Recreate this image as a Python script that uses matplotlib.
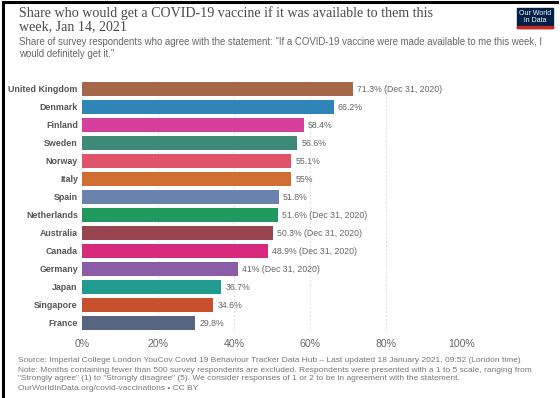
import matplotlib.pyplot as plt
from matplotlib.patches import Rectangle
from matplotlib.lines import Line2D

countries = ['United Kingdom', 'Denmark', 'Finland', 'Sweden', 'Norway', 'Italy',
             'Spain', 'Netherlands', 'Australia', 'Canada', 'Germany', 'Japan',
             'Singapore', 'France']
values = [71.3, 66.2, 58.4, 56.6, 55.1, 55.0, 51.8, 51.6, 50.3, 48.9, 41.0,
          36.7, 34.6, 29.8]
value_labels = ['71.3% (Dec 31, 2020)', '66.2%', '58.4%', '56.6%', '55.1%', '55%',
                '51.8%', '51.6% (Dec 31, 2020)', '50.3% (Dec 31, 2020)',
                '48.9% (Dec 31, 2020)', '41% (Dec 31, 2020)', '36.7%', '34.6%',
                '29.8%']
colors = ['#a6684b', '#2f86b6', '#d63f9b', '#3e8a78', '#df5468', '#cf6d33',
          '#6a83ae', '#1f995e', '#984551', '#d82a7c', '#8a5ca7', '#219a8f',
          '#c5502b', '#566580']
xticks = [0, 20, 40, 60, 80, 100]

title = 'Share who would get a COVID-19 vaccine if it was available to them this\nweek, Jan 14, 2021'
subtitle = ('Share of survey respondents who agree with the statement: "If a COVID-19 vaccine '
            'were made available to me this week, I\nwould definitely get it."')
footer = ['Source: Imperial College London YouCov Covid 19 Behaviour Tracker Data Hub \u2013 '
          'Last updated 18 January 2021, 09:52 (London time)',
          'Note: Months containing fewer than 500 survey respondents are excluded. Respondents '
          'were presented with a 1 to 5 scale, ranging from',
          '"Strongly agree" (1) to "Strongly disagree" (5). We consider responses of 1 or 2 '
          'to be in agreement with the statement.',
          'OurWorldInData.org/covid-vaccinations \u2022 CC BY']

W, H = 560, 398
fig = plt.figure(figsize=(W / 100, H / 100), dpi=100)
plt.rcParams['font.family'] = ['Liberation Sans', 'DejaVu Sans']


def fx(px):
    return px / W


def fy(py):
    return 1 - py / H


# border on top and left
fig.add_artist(Line2D([fx(3), fx(557)], [fy(2), fy(2)], color='black', lw=2.2))
fig.add_artist(Line2D([fx(3), fx(3)], [fy(1.5), 0], color='black', lw=2.2))

ax = fig.add_axes([fx(82), fy(332), fx(462) - fx(82), fy(80) - fy(332)])
y = list(range(len(countries)))
ax.barh(y, values, height=0.78, color=colors, zorder=3)
ax.set_xlim(0, 100)
ax.set_ylim(len(countries) - 0.5, -0.5)
ax.set_yticks(y)
ax.set_yticklabels(countries, fontsize=6.4, fontweight='bold', color='#555555')
ax.set_xticks(xticks)
ax.set_xticklabels([f'{t}%' for t in xticks], fontsize=7.6, color='#666666')
ax.tick_params(axis='both', length=0)
ax.tick_params(axis='y', pad=3)
ax.tick_params(axis='x', pad=5)
for s in ax.spines.values():
    s.set_visible(False)
ax.grid(axis='x', linestyle=(0, (2, 2)), color='#dddddd', lw=0.7, zorder=0)
ax.set_axisbelow(True)

for i, (v, lab) in enumerate(zip(values, value_labels)):
    ax.annotate(lab, (v, i), xytext=(3, 0), textcoords='offset points',
                va='center', ha='left', fontsize=6.3, color='#666666')

fig.text(fx(19), fy(6), title, ha='left', va='top', fontsize=10.1,
         family='Liberation Serif', color='#4a4a4a', linespacing=1.05)
fig.text(fx(19), fy(37), subtitle, ha='left', va='top', fontsize=6.9,
         color='#666666', linespacing=1.25)

for k, line in enumerate(footer):
    fig.text(fx(18), fy(361 + 9 * k), line, ha='left', va='center', fontsize=6.0,
             color='#777777')

# logo
fig.add_artist(Rectangle((fx(517), fy(28)), fx(36), fy(8) - fy(28), color='#002147'))
fig.add_artist(Rectangle((fx(517), fy(28)), fx(36), fy(26) - fy(28), color='#ce261e'))
fig.text(fx(535), fy(17), 'Our World\nin Data', ha='center', va='center', fontsize=5,
         color='white', linespacing=1.0)

fig.savefig('out.png', dpi=100)
